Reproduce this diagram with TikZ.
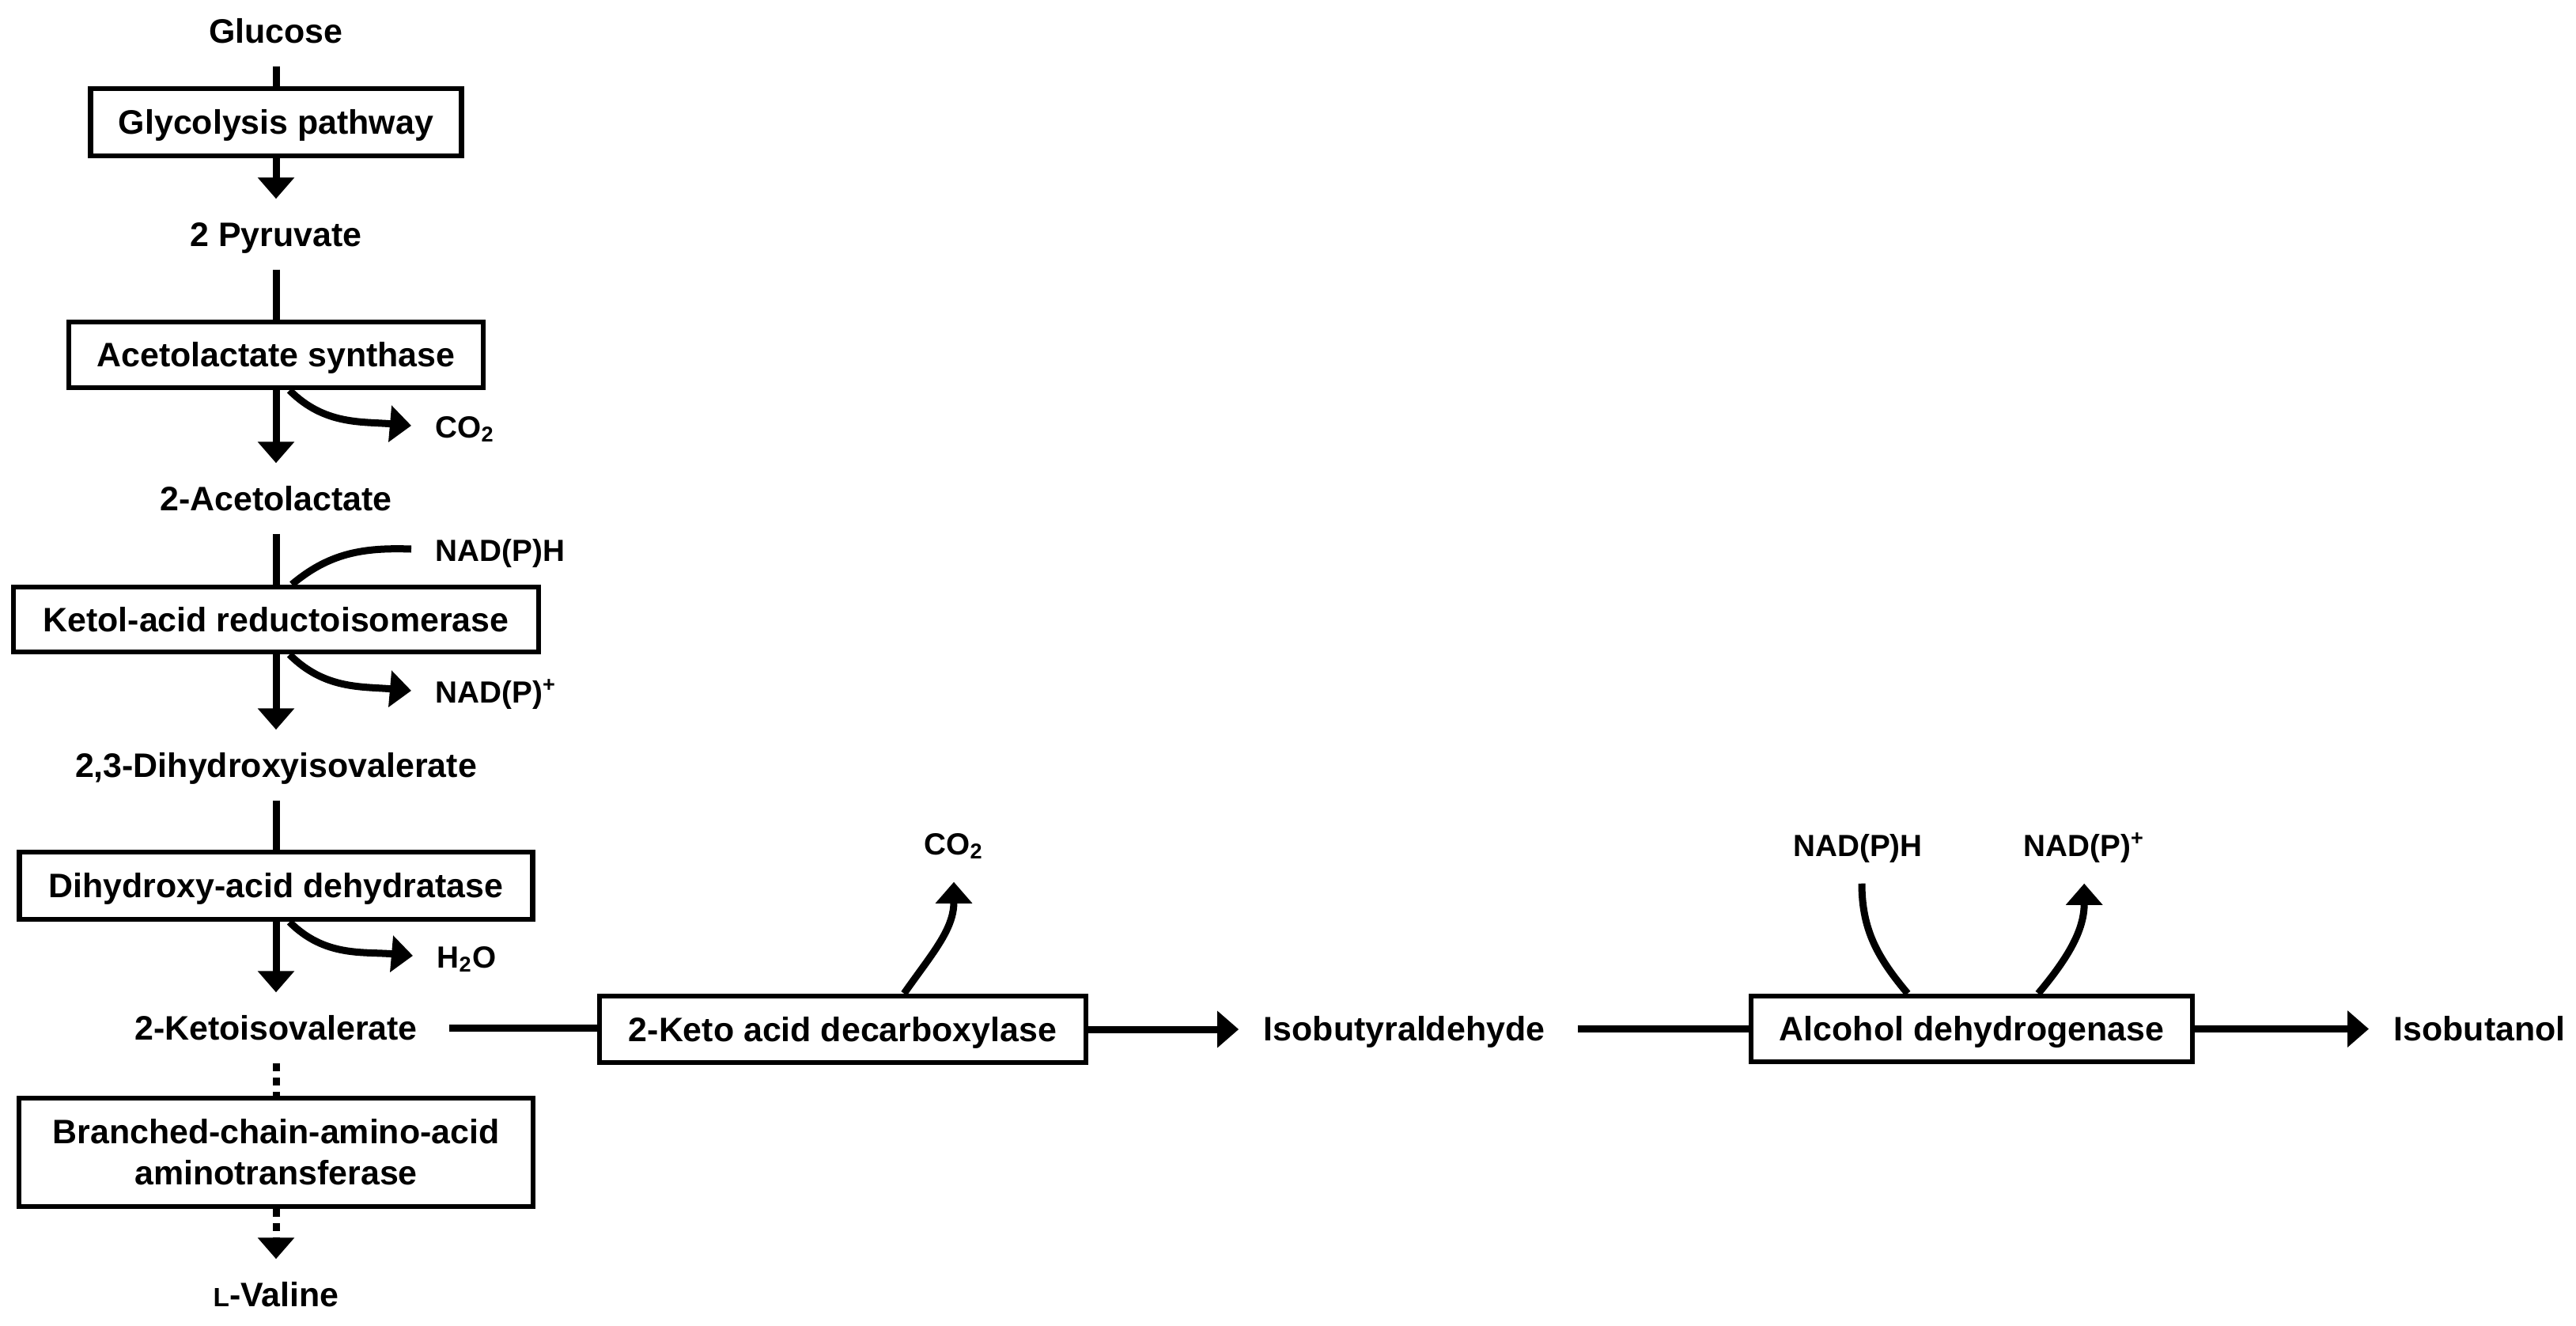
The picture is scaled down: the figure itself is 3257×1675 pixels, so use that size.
\documentclass[tikz,border=0pt]{standalone}
\usepackage{fontspec}
\setmainfont{Liberation Sans}
\usetikzlibrary{arrows.meta}
\begin{document}
\begin{tikzpicture}[x=0.01cm, y=0.01cm,
  every node/.style={font=\bfseries\fontsize{12.2}{14.8}\selectfont},
  met/.style={inner xsep=0.31cm, inner ysep=0.29cm, text height=0.30cm, text depth=0cm},
  small/.style={font=\bfseries\fontsize{11}{13}\selectfont, inner xsep=0.3cm, inner ysep=0.34cm, text height=0.30cm, text depth=0cm},
  enz/.style={draw, line width=0.065cm, inner sep=0pt, align=center, text height=0.30cm, text depth=0cm},
  enz2/.style={draw, line width=0.065cm, inner sep=0pt, align=center},
  conn/.style={line width=0.09cm},
  arr/.style={conn, -{Triangle[length=0.27cm,width=0.45cm]}},
  dashpat/.style={dash pattern=on 0.1cm off 0.08cm}
]
\useasboundingbox (0,0) rectangle (3257,-1675);

% left column
\node[met, anchor=base] (glc) at (349,-54) {Glucose};
\node[enz, minimum width=4.69cm, minimum height=0.85cm] (glyc) at (349,-154.5) {Glycolysis pathway};
\node[met, anchor=base] (pyr) at (349,-311) {2 Pyruvate};
\node[enz, minimum width=5.24cm, minimum height=0.83cm] (als) at (349,-448.5) {Acetolactate synthase};
\node[met, anchor=base] (acl) at (349,-645) {2-Acetolactate};
\node[enz, minimum width=6.64cm, minimum height=0.82cm] (kari) at (349,-783) {Ketol-acid reductoisomerase};
\node[met, anchor=base] (dhiv) at (349,-982) {2,3-Dihydroxyisovalerate};
\node[enz, minimum width=6.49cm, minimum height=0.85cm] (dhad) at (349,-1119.5) {Dihydroxy-acid dehydratase};
\node[met, anchor=base] (kiv) at (349,-1314) {2-Ketoisovalerate};
\node[enz2, minimum width=6.50cm, minimum height=1.37cm] (bcat) at (349,-1456.5) {Branched-chain-amino-acid\\aminotransferase};
\node[met, anchor=base] (val) at (349,-1651) {{\fontsize{9.5}{10}\selectfont L}-Valine};

% side labels left
\node[small, anchor=base west] (co2a) at (520,-553) {CO\textsubscript{2}};
\node[small, anchor=base west] (nadpha) at (520,-709) {NAD(P)H};
\node[small, anchor=base west] (nadpa) at (520,-888) {NAD(P)\textsuperscript{+}};
\node[small, anchor=base west] (h2oa) at (522,-1223) {H\textsubscript{2}O};

% right row
\node[enz, minimum width=6.15cm, minimum height=0.84cm] (kdc) at (1065.5,-1301) {2-Keto acid decarboxylase};
\node[met, anchor=base] (ibal) at (1775.5,-1315) {Isobutyraldehyde};
\node[enz, minimum width=5.58cm, minimum height=0.83cm] (adh) at (2493,-1300.5) {Alcohol dehydrogenase};
\node[met, anchor=base west] (ibol) at (2995,-1315) {Isobutanol};
\node[small, anchor=base] (co2b) at (1206,-1080) {CO\textsubscript{2}};
\node[small, anchor=base] (nadphb) at (2349,-1082) {NAD(P)H};
\node[small, anchor=base west] (nadpb) at (2528,-1082) {NAD(P)\textsuperscript{+}};

% main vertical connectors
\draw[conn] (glc) -- (glyc);
\draw[arr] (glyc) -- (pyr);
\draw[conn] (pyr) -- (als);
\draw[arr] (als) -- (acl);
\draw[conn] (acl) -- (kari);
\draw[arr] (kari) -- (dhiv);
\draw[conn] (dhiv) -- (dhad);
\draw[arr] (dhad) -- (kiv);
\draw[conn, dashpat] (kiv) -- (bcat);
\draw[arr, dashpat] (bcat) -- (val);

% side curves left
\draw[arr] ([xshift=0.17cm]als.south) to[out=-45, in=175] (co2a.west);
\draw[conn] (nadpha.west) to[out=178, in=40] ([xshift=0.2cm]kari.north);
\draw[arr] ([xshift=0.17cm]kari.south) to[out=-45, in=175] (nadpa.west);
\draw[arr] ([xshift=0.17cm]dhad.south) to[out=-45, in=175] (h2oa.west);

% horizontal connectors
\draw[conn, shorten <=0.08cm] (kiv.east) -- (kiv.east -| kdc.west);
\draw[arr] (kdc.east) -- (kdc.east -| ibal.west);
\draw[conn, shorten <=0.1cm] (ibal.east) -- (ibal.east -| adh.west);
\draw[arr] (adh.east) -- (adh.east -| ibol.west);

% side curves right
\draw[arr] ([xshift=0.775cm]kdc.north) to[out=55, in=-90] (co2b.south);
\draw[conn] ([xshift=0.05cm]nadphb.south) to[out=-90, in=130] ([xshift=-0.81cm]adh.north);
\draw[arr] ([xshift=0.84cm]adh.north) to[out=50, in=-90] (nadpb.south);
\end{tikzpicture}
\end{document}
